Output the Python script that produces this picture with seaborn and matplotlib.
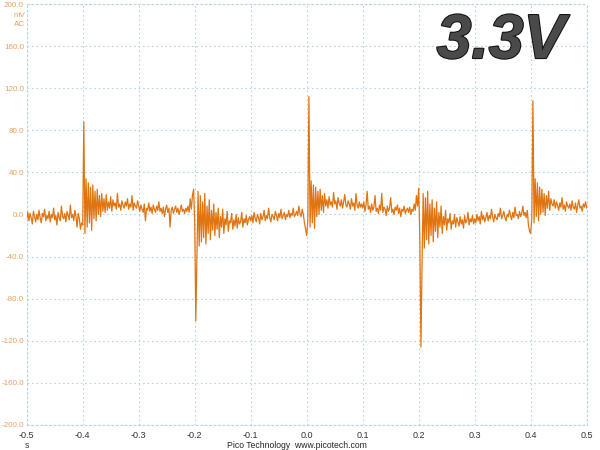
import numpy as np
import matplotlib
matplotlib.use("Agg")
import matplotlib.pyplot as plt
import matplotlib.patheffects as pe
import seaborn as sns

# scope trace, mV in 0.1 s chunks (50 samples each, 2 ms apart)
seg_a = [-4, 2, -6, 1, -3, -9, 3, -2, -7, 0,
         -5, 4, -3, -8, 1, -2, 5, -6, -1, -4,
         3, -7, 0, -3, 6, -5, -1, -10, 2, -3,
         -6, 8, -2, -4, 1, -7, 3, -1, -5, 9,
         -3, 0, -6, 4, -2, -12, 1, -4, -14, -8]
seg_b = [-10, 88, -18, 34, -12, 30, -8, 26, -15, 28,
         -4, 22, -6, 24, 0, 18, -2, 20, 3, 15,
         2, 19, 4, 12, 6, 17, 3, 14, 8, 11,
         5, 20, 7, 10, 4, 13, 9, 6, 12, 8,
         15, 5, 10, 7, 18, 4, 11, 8, 6, 13]
seg_c = [8, 3, 9, 5, 2, 10, -6, 6, 4, 11,
         3, 7, 1, 9, 5, 2, 8, 4, 12, 3,
         6, 1, 7, -2, 5, 9, 2, 6, -12, 4,
         7, 1, 5, 8, 2, 6, 0, 4, 9, 3,
         5, 1, 6, 3, 8, 2, 15, 5, 18, 24]
seg_d = [-6, -101, -40, 22, -30, 18, -26, 12, -22, 20,
         -28, 8, -18, 14, -24, 4, -15, 10, -20, 2,
         -14, 6, -22, -2, -12, 5, -18, -4, -10, 3,
         -16, -6, -8, 1, -14, -5, -11, 0, -13, -3,
         -9, -7, 2, -12, -4, -8, -1, -10, -5, -2]
seg_e = [-6, -1, -8, 2, -4, -7, 0, -3, -9, 1,
         -5, -2, 4, -6, -1, -4, 6, -3, -7, 0,
         -2, -5, 3, -1, -6, 1, -3, 5, -4, -1,
         2, -5, 0, -2, 4, -3, 1, -1, 6, -2,
         0, 3, -1, 8, 1, -2, 5, 0, -8, -14]
seg_f = [-20, -6, 112, -12, 32, -8, 28, -13, 26, -2,
         22, 0, 24, 4, 18, 2, 20, 8, 14, 6,
         17, 9, 12, 7, 21, 10, 13, 5, 16, 11,
         8, 14, 6, 12, 19, 9, 7, 13, 10, 5,
         15, 8, 11, 4, 20, 9, 6, 12, 7, 10]
seg_g = [6, 12, 3, 9, 22, 5, 8, 2, 10, 4,
         7, 18, 3, 6, 1, 9, 4, 20, 2, 7,
         5, -1, 8, 3, 6, 16, 2, 5, 0, 7,
         4, 9, 1, 6, -2, 5, 3, 8, 1, 4,
         6, 2, 7, 0, 5, 3, 10, 4, 18, 8]
seg_h = [25, -20, -126, -48, 20, -32, 16, -24, 22, -28,
         10, -20, 14, -26, 6, -16, 12, -22, 2, -12,
         8, -18, -2, -10, 4, -15, -4, -8, 1, -14,
         -6, -9, 0, -12, -3, -7, -11, -2, -9, -5,
         -13, -1, -8, -6, 2, -10, -4, -7, -1, -9]
seg_i = [-4, -8, 0, -6, -2, -9, 3, -5, -1, -7,
         -3, 2, -6, -1, -4, 5, -2, -7, 0, -3,
         -5, 1, -2, 6, -4, -1, 3, -3, -6, 0,
         -2, 4, -1, -5, 2, -3, 7, -1, 0, -4,
         3, -2, 1, 8, -1, 2, -3, 4, -10, -16]
seg_j = [-18, -4, 108, -8, 34, -2, 30, -6, 26, 0,
         24, 2, 20, -1, 18, 6, 22, 4, 15, 10,
         8, 14, 6, 12, 9, 4, 11, 7, 16, 5,
         9, 3, 12, 8, 6, 10, 4, 13, 7, 5,
         11, 2, 9, 14, 6, 8, 3, 10, 7, 12, 6]

x_ticks = [-0.5, -0.4, -0.3, -0.2, -0.1, 0.0, 0.1, 0.2, 0.3, 0.4, 0.5]
y_ticks = [-200, -160, -120, -80, -40, 0, 40, 80, 120, 160, 200]

volts = np.array(seg_a + seg_b + seg_c + seg_d + seg_e + seg_f + seg_g + seg_h + seg_i + seg_j, dtype=float)
times = np.linspace(-0.5, 0.5, len(volts))

sns.set_style("white")
plt.rcParams['font.family'] = ['Liberation Sans', 'DejaVu Sans']

fig = plt.figure(figsize=(6, 4.5), dpi=100)
ax = fig.add_axes([0.0445, 0.0556, 0.9333, 0.9355])

grid_col = '#b3d5e6'
sns.lineplot(x=times, y=volts, ax=ax, color='#e07410', linewidth=0.9, estimator=None, zorder=3)

ax.set_xlim(-0.5, 0.5)
ax.set_ylim(-200, 200)
ax.set_xticks(x_ticks)
ax.set_xticklabels([f"{v:.1f}" for v in x_ticks])
ax.set_yticks(y_ticks)
ax.set_yticklabels([f"{v:.1f}" for v in y_ticks])
ax.tick_params(axis='x', length=0, pad=4, labelsize=6.5, labelcolor='#333333')
ax.tick_params(axis='y', length=0, pad=2, labelsize=5.8, labelcolor='#e8a25e')
ax.grid(True, color=grid_col, linestyle=(0, (1.5, 2.5)), linewidth=0.8)
for s in ax.spines.values():
    s.set_color(grid_col)
    s.set_linestyle((0, (1.5, 2.5)))
    s.set_linewidth(0.8)
ax.set_xlabel('')
ax.set_ylabel('')

# unit labels under the top y tick
fig.text(0.0415, 0.966, 'mV', ha='right', va='center', fontsize=5.8, color='#e8a25e')
fig.text(0.0415, 0.946, 'AC', ha='right', va='center', fontsize=5.8, color='#e8a25e')
fig.text(0.0445, 0.0095, 's', ha='center', va='center', fontsize=6.2, color='#333333')
fig.text(0.495, 0.0095, 'Pico Technology  www.picotech.com', ha='center', va='center',
         fontsize=6.2, color='#222222')

fig.text(0.835, 0.871, '3.3V', ha='center', va='baseline', fontsize=45,
         fontweight='bold', style='italic', color='#4a4a4a',
         path_effects=[pe.withStroke(linewidth=1.5, foreground='#111111')])

fig.savefig('out.png', dpi=100)
